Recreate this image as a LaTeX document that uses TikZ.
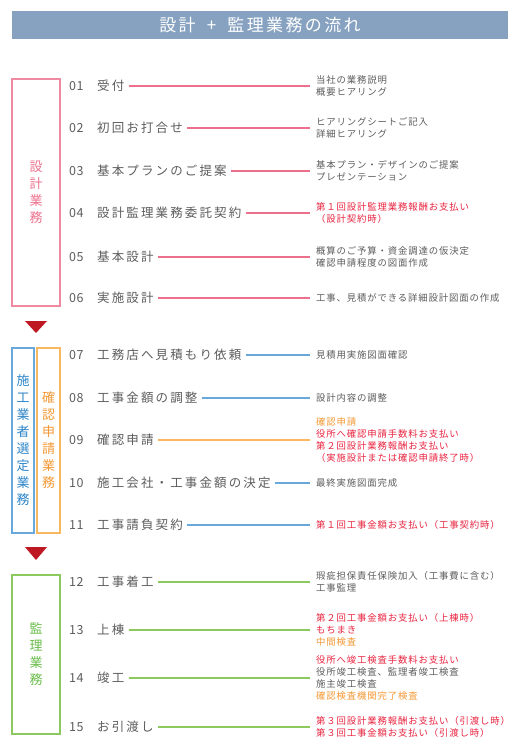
\documentclass[tikz,border=0pt]{standalone}
\usepackage{fontspec}
\newfontfamily\jpTitle{Noto Sans CJK JP}[LetterSpace=14]
\newfontfamily\jpStep{Noto Sans CJK JP}[LetterSpace=17]
\newfontfamily\jpNum{Noto Sans CJK JP}[LetterSpace=4]
\newfontfamily\jpNote{Noto Sans CJK JP}[LetterSpace=9]
\newfontfamily\jpBand{Noto Sans CJK JP}
\definecolor{flowBar}{RGB}{134,162,192}
\definecolor{flowInk}{RGB}{92,92,92}
\definecolor{flowPink}{RGB}{236,112,140}
\definecolor{flowRose}{RGB}{240,138,160}
\definecolor{flowBlue}{RGB}{104,168,218}
\definecolor{flowSky}{RGB}{44,132,200}
\definecolor{flowOrange}{RGB}{248,184,96}
\definecolor{flowAmber}{RGB}{243,152,52}
\definecolor{flowGreen}{RGB}{140,202,96}
\definecolor{flowLeaf}{RGB}{104,188,72}
\definecolor{flowRed}{RGB}{232,36,64}
\definecolor{flowMark}{RGB}{190,24,34}

\begin{document}
\begin{tikzpicture}[x=1pt,y=-1pt]
\tikzset{
bar/.style={fill=flowBar,inner sep=0pt,text=white,minimum width=496pt,minimum height=28pt,
font=\jpTitle\fontsize{17}{19}\selectfont},
band/.style={draw=#1,line width=1.3pt,inner sep=0pt,align=center,
font=\jpBand\fontsize{13}{17}\selectfont},
num/.style={anchor=west,inner sep=0pt,inner xsep=2pt,text=flowInk,
font=\jpNum\fontsize{12.5}{14}\selectfont,text height=11pt,text depth=1.5pt},
stage/.style={num,inner xsep=4pt,font=\jpStep\fontsize{12.5}{14}\selectfont},
note/.style={anchor=west,inner xsep=3pt,inner ysep=0pt,align=left,text=flowInk,
font=\jpNote\fontsize{9.4}{12}\selectfont},
link/.style={draw=#1,line width=1.4pt,shorten >=3pt}
}
\useasboundingbox (0,0) rectangle (520,750);

\node[bar] (head) at (260,25) {設計\hspace{5pt} + \hspace{5pt}監理業務の流れ};

% phase boxes
\node[band=flowRose,text=flowPink,minimum width=48pt,minimum height=227pt] (design) at (36,192.5) {設\\計\\業\\務};
\node[band=flowBlue,text=flowSky,minimum width=22pt,minimum height=185pt] (select) at (23,440.5) {施\\工\\業\\者\\選\\定\\業\\務};
\node[band=flowOrange,text=flowAmber,minimum width=23pt,minimum height=185pt] (permit) at (48.5,440.5) {確\\認\\申\\請\\業\\務};
\node[band=flowGreen,text=flowLeaf,minimum width=48pt,minimum height=159pt] (super) at (36,654.5) {監\\理\\業\\務};

\fill[flowMark] (25,321) -- (47,321) -- (36,333) -- cycle;
\fill[flowMark] (25,547) -- (47,547) -- (36,560) -- cycle;

% notes
\node[note] (d01) at (313,86) {当社の業務説明\\概要ヒアリング};
\node[note] (d02) at (313,128) {ヒアリングシートご記入\\詳細ヒアリング};
\node[note] (d03) at (313,171) {基本プラン・デザインのご提案\\プレゼンテーション};
\node[note,text=flowRed] (d04) at (313,213) {第１回設計監理業務報酬お支払い\\（設計契約時）};
\node[note] (d05) at (313,257) {概算のご予算・資金調達の仮決定\\確認申請程度の図面作成};
\node[note] (d06) at (313,298) {工事、見積ができる詳細設計図面の作成};
\node[note] (d07) at (313,355) {見積用実施図面確認};
\node[note] (d08) at (313,398) {設計内容の調整};
\node[note,text=flowRed] (d09) at (313,440) {\textcolor{flowAmber}{確認申請}\\役所へ確認申請手数料お支払い\\第２回設計業務報酬お支払い\\（実施設計または確認申請終了時）};
\node[note] (d10) at (313,483) {最終実施図面完成};
\node[note,text=flowRed] (d11) at (313,525) {第１回工事金額お支払い（工事契約時）};
\node[note] (d12) at (313,582) {瑕疵担保責任保険加入（工事費に含む）\\工事監理};
\node[note,text=flowRed] (d13) at (313,630) {第２回工事金額お支払い（上棟時）\\もちまき\\\textcolor{flowAmber}{中間検査}};
\node[note] (d14) at (313,678) {\textcolor{flowRed}{役所へ竣工検査手数料お支払い}\\役所竣工検査、監理者竣工検査\\施主竣工検査\\\textcolor{flowAmber}{確認検査機関完了検査}};
\node[note,text=flowRed] (d15) at (313,727) {第３回設計業務報酬お支払い（引渡し時）\\第３回工事金額お支払い（引渡し時）};

% steps
\foreach \n/\y/\lab/\col in {01/86/受付/flowPink,02/128/初回お打合せ/flowPink,
  03/171/基本プランのご提案/flowPink,04/213/設計監理業務委託契約/flowPink,
  05/257/基本設計/flowPink,06/298/実施設計/flowPink,
  07/355/工務店へ見積もり依頼/flowBlue,08/398/工事金額の調整/flowBlue,
  09/440/確認申請/flowOrange,10/483/施工会社・工事金額の決定/flowBlue,
  11/525/工事請負契約/flowBlue,12/582/工事着工/flowGreen,13/630/上棟/flowGreen,
  14/678/竣工/flowGreen,15/727/お引渡し/flowGreen}{
  \node[num] (n\n) at (67,\y) {\n};
  \node[stage] (s\n) at (93,\y) {\lab};
  \draw[link=\col] (s\n.east) -- (d\n.west);
}
\end{tikzpicture}
\end{document}
